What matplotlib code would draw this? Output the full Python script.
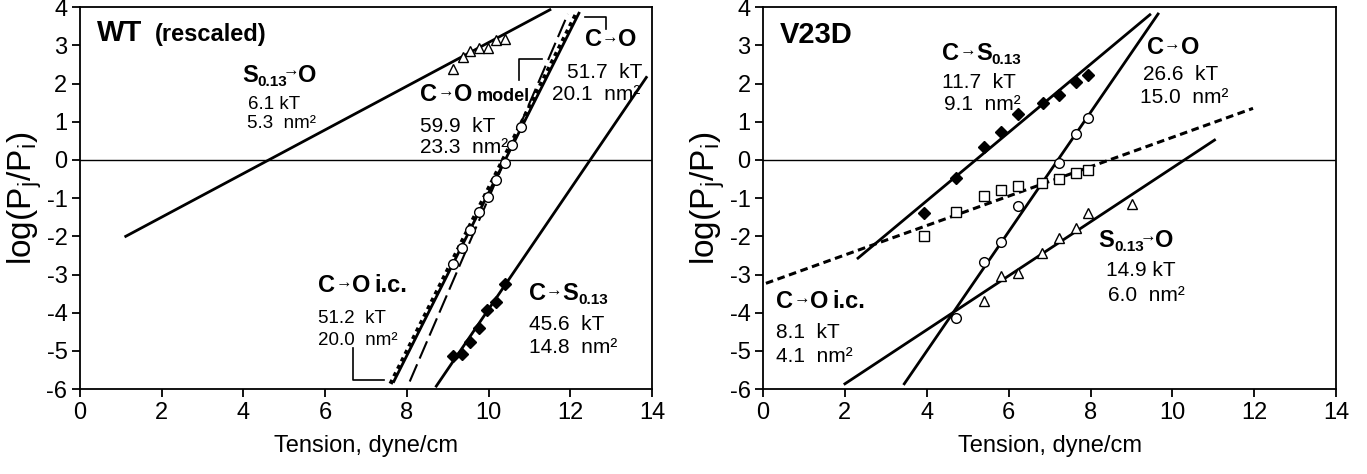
import matplotlib
matplotlib.use("Agg")
import matplotlib.pyplot as plt

plt.rcParams['font.family'] = ['Liberation Sans', 'DejaVu Sans']
plt.rcParams['axes.unicode_minus'] = False
plt.rcParams['mathtext.fontset'] = 'custom'
plt.rcParams['mathtext.rm'] = 'Liberation Sans'
plt.rcParams['mathtext.bf'] = 'Liberation Sans:bold'

# ---- WT (rescaled) data ----
wt_tri_x = [9.14, 9.37, 9.55, 9.76, 9.98, 10.19, 10.41]
wt_tri_y = [2.38, 2.70, 2.84, 2.92, 2.92, 3.14, 3.16]
wt_circ_x = [9.14, 9.35, 9.55, 9.76, 9.98, 10.19, 10.39, 10.58, 10.80]
wt_circ_y = [-2.73, -2.30, -1.83, -1.35, -0.96, -0.52, -0.09, 0.39, 0.87]
wt_dia_x = [9.14, 9.36, 9.55, 9.76, 9.97, 10.19, 10.39]
wt_dia_y = [-5.13, -5.08, -4.76, -4.41, -3.93, -3.71, -3.25]

# fit lines: (x0, x1), (y0, y1)
wt_so_line = ([1.12, 11.5], [-2.0, 3.93])
wt_co_line = ([7.68, 12.21], [-5.80, 3.84])
wt_model_line = ([7.60, 12.15], [-5.86, 3.84])
wt_ic_line = ([8.07, 11.94], [-5.80, 3.82])
wt_cs_line = ([8.72, 13.86], [-5.92, 2.16])

# ---- V23D data ----
v_dia_x = [3.94, 4.71, 5.39, 5.81, 6.24, 6.84, 7.22, 7.65, 7.95]
v_dia_y = [-1.40, -0.48, 0.35, 0.74, 1.20, 1.48, 1.70, 2.05, 2.22]
v_circ_x = [4.71, 5.39, 5.81, 6.24, 6.81, 7.22, 7.65, 7.95]
v_circ_y = [-4.14, -2.66, -2.16, -1.20, -0.61, -0.09, 0.68, 1.09]
v_sq_x = [3.94, 4.71, 5.39, 5.81, 6.24, 6.81, 7.22, 7.65, 7.95]
v_sq_y = [-1.99, -1.35, -0.94, -0.79, -0.68, -0.61, -0.51, -0.35, -0.26]
v_tri_x = [5.39, 5.81, 6.24, 6.81, 7.22, 7.65, 7.95, 9.01]
v_tri_y = [-3.68, -3.04, -2.95, -2.44, -2.05, -1.79, -1.40, -1.15]

v_cs_line = ([2.32, 9.45], [-2.57, 3.80])
v_co_line = ([3.45, 9.65], [-5.86, 3.82])
v_ic_line = ([0.07, 11.97], [-3.23, 1.35])
v_so_line = ([2.0, 11.03], [-5.86, 0.52])

xticks = [0, 2, 4, 6, 8, 10, 12, 14]
yticks = [-6, -5, -4, -3, -2, -1, 0, 1, 2, 3, 4]

fig = plt.figure(figsize=(13.67, 4.74), dpi=100)
ax1 = fig.add_axes([0.0585, 0.179, 0.4185, 0.806])
ax2 = fig.add_axes([0.5582, 0.179, 0.4192, 0.806])
renderer = fig.canvas.get_renderer()


def chain(ax, x, y, pieces):
    # bold label made of pieces: (text, size, raise in pt, extra gap in pt)
    off = 0.0
    for s, size, dy, kern in pieces:
        off += kern
        t = ax.annotate(s, (x, y), xytext=(off, dy), textcoords='offset points',
                        fontsize=size, fontweight='bold', va='baseline', ha='left')
        off += t.get_window_extent(renderer).width * 72 / fig.dpi


ARROW = ('\u2192', 12, 3, 0)

for ax in (ax1, ax2):
    ax.set_xlim(0, 14)
    ax.set_ylim(-6, 4)
    ax.set_xticks(xticks)
    ax.set_yticks(yticks)
    ax.tick_params(direction='out', length=6, width=1.3, labelsize=17, pad=3)
    for s in ax.spines.values():
        s.set_linewidth(1.3)
    ax.axhline(0, color='black', lw=1.0, zorder=1)
    ax.set_xlabel('Tension, dyne/cm', fontsize=17, labelpad=8)
    ax.set_ylabel(r'log(P$_\mathregular{j}$/P$_\mathregular{i}$)', fontsize=24, labelpad=2)

lw = 2.0
mk = dict(linestyle='none', markersize=7, markeredgewidth=1.0, markeredgecolor='black', zorder=4)

# left panel
ax1.plot(*wt_so_line, color='black', lw=lw)
ax1.plot(*wt_co_line, color='black', lw=lw)
ax1.plot(*wt_model_line, color='black', lw=3, linestyle=(0, (1, 1)))
ax1.plot(*wt_ic_line, color='black', lw=1.5, linestyle=(0, (9, 3)))
ax1.plot(*wt_cs_line, color='black', lw=lw)
ax1.plot(wt_tri_x, wt_tri_y, marker='^', markerfacecolor='white', **mk)
ax1.plot(wt_circ_x, wt_circ_y, marker='o', markerfacecolor='white', **mk)
ax1.plot(wt_dia_x, wt_dia_y, marker='D', markerfacecolor='black', markersize=6,
         linestyle='none', markeredgecolor='black', zorder=4)

# brackets
ax1.plot([12.35, 12.88, 12.88], [3.75, 3.75, 3.43], color='black', lw=1.2)
ax1.plot([10.74, 10.74, 11.31], [2.09, 2.64, 2.64], color='black', lw=1.2)
ax1.plot([6.68, 6.68, 7.44], [-4.92, -5.76, -5.76], color='black', lw=1.2)

ax1.text(0.42, 3.10, 'WT', fontsize=21, fontweight='bold')
ax1.text(1.83, 3.10, '(rescaled)', fontsize=17, fontweight='bold')
chain(ax1, 3.96, 2.05, [('S', 17, 0, 0), ('0.13', 11, -3, 0), ('\u2192', 12, 4, -3), ('O', 17, 0, -1)])
ax1.text(4.11, 1.33, '6.1 kT', fontsize=13.5)
ax1.text(4.08, 0.83, '5.3  nm\u00b2', fontsize=13.5)
chain(ax1, 8.33, 1.54, [('C', 17, 0, 0), ARROW, ('O', 17, 0, 0), ('model', 13, 0, 3)])
ax1.text(8.31, 0.74, '59.9  kT', fontsize=15)
ax1.text(8.31, 0.18, '23.3  nm\u00b2', fontsize=15)
chain(ax1, 12.35, 2.97, [('C', 17, 0, 0), ARROW, ('O', 17, 0, 0)])
ax1.text(11.92, 2.14, '51.7  kT', fontsize=15)
ax1.text(11.56, 1.57, '20.1  nm\u00b2', fontsize=15)
chain(ax1, 5.83, -3.45, [('C', 17, 0, 0), ARROW, ('O', 17, 0, 0), ('i.c.', 17, 0, 3)])
ax1.text(5.82, -4.28, '51.2  kT', fontsize=13.5)
ax1.text(5.82, -4.84, '20.0  nm\u00b2', fontsize=13.5)
chain(ax1, 10.99, -3.66, [('C', 17, 0, 0), ARROW, ('S', 17, 0, 0), ('0.13', 11, -3, 0)])
ax1.text(10.98, -4.45, '45.6  kT', fontsize=15)
ax1.text(10.98, -5.06, '14.8  nm\u00b2', fontsize=15)

# right panel
ax2.plot(*v_cs_line, color='black', lw=lw)
ax2.plot(*v_co_line, color='black', lw=lw)
ax2.plot(*v_ic_line, color='black', lw=2.2, linestyle=(0, (2.5, 1.5)))
ax2.plot(*v_so_line, color='black', lw=lw)
ax2.plot(v_dia_x, v_dia_y, marker='D', markerfacecolor='black', markersize=6,
         linestyle='none', markeredgecolor='black', zorder=4)
ax2.plot(v_circ_x, v_circ_y, marker='o', markerfacecolor='white', **mk)
ax2.plot(v_sq_x, v_sq_y, marker='s', markerfacecolor='white', **mk)
ax2.plot(v_tri_x, v_tri_y, marker='^', markerfacecolor='white', **mk)

ax2.text(0.40, 3.07, 'V23D', fontsize=21, fontweight='bold')
chain(ax2, 4.38, 2.62, [('C', 17, 0, 0), ARROW, ('S', 17, 0, 0), ('0.13', 11, -3, 0)])
ax2.text(4.38, 1.88, '11.7  kT', fontsize=15)
ax2.text(4.43, 1.31, '9.1  nm\u00b2', fontsize=15)
chain(ax2, 9.38, 2.77, [('C', 17, 0, 0), ARROW, ('O', 17, 0, 0)])
ax2.text(9.28, 2.09, '26.6  kT', fontsize=15)
ax2.text(9.20, 1.48, '15.0  nm\u00b2', fontsize=15)
chain(ax2, 8.20, -2.27, [('S', 17, 0, 0), ('0.13', 11, -3, 0), ('\u2192', 12, 4, -3), ('O', 17, 0, -1)])
ax2.text(8.39, -3.05, '14.9 kT', fontsize=15)
ax2.text(8.42, -3.68, '6.0  nm\u00b2', fontsize=15)
chain(ax2, 0.32, -3.88, [('C', 17, 0, 0), ARROW, ('O', 17, 0, 0), ('i.c.', 17, 0, 3)])
ax2.text(0.32, -4.67, '8.1  kT', fontsize=15)
ax2.text(0.32, -5.28, '4.1  nm\u00b2', fontsize=15)

fig.savefig('out.png', dpi=100)
